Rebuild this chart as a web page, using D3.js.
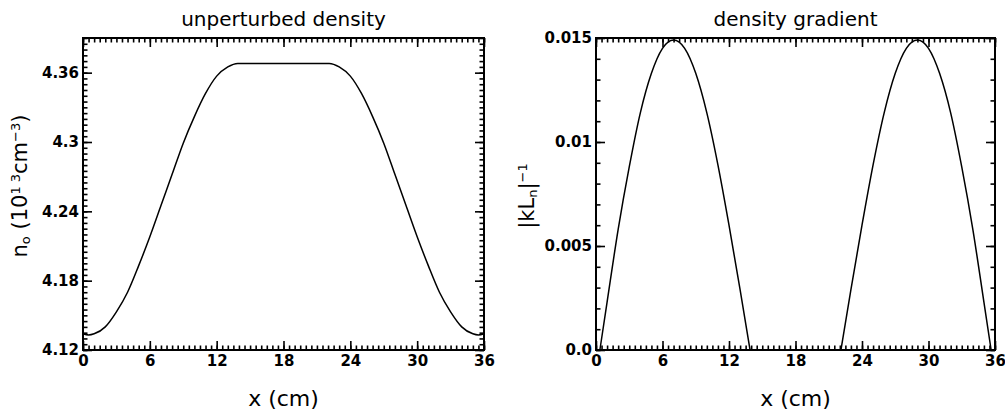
<!DOCTYPE html>
<html>
<head>
<meta charset="utf-8">
<script src="https://cdn.jsdelivr.net/npm/d3@7"></script>
<style>
    body { margin: 0; background: #fff; }
    text { font-family: "DejaVu Sans", sans-serif; fill: #000; }
    .tick text { font-size: 15px; font-weight: bold; }
</style>
</head>
<body>
<div id="chart"></div>
<script>
// left panel: unperturbed density n0 (10^13 cm^-3)
const densX = [0, 0.5, 1, 2, 3, 4, 5, 6, 7, 8, 9, 10, 11, 12, 13, 13.9,
               22.1, 23, 24, 25, 26, 27, 28, 29, 30, 31, 32, 33, 34, 35, 35.5, 36];
const densY = [4.134, 4.133, 4.134, 4.140, 4.153, 4.170, 4.193, 4.218, 4.245, 4.272, 4.299, 4.322, 4.342, 4.357, 4.365, 4.368,
               4.368, 4.365, 4.357, 4.342, 4.322, 4.299, 4.272, 4.245, 4.218, 4.193, 4.170, 4.153, 4.140, 4.134, 4.133, 4.134];

// right panel: |kLn|^-1, two humps
const gradX1 = [0.35, 1, 2, 3, 4, 5, 6, 7, 8, 9, 10, 11, 12, 13, 13.9];
const gradY1 = [0, 0.0023, 0.0058, 0.0088, 0.0114, 0.0133, 0.0145, 0.0149, 0.0145, 0.0133, 0.0114, 0.0089, 0.0060, 0.0029, 0];
const gradX2 = [22.1, 23, 24, 25, 26, 27, 28, 29, 30, 31, 32, 33, 34, 35, 35.65];
const gradY2 = [0, 0.0029, 0.0060, 0.0089, 0.0114, 0.0133, 0.0145, 0.0149, 0.0145, 0.0133, 0.0114, 0.0088, 0.0058, 0.0023, 0];

const xTicks = [0, 6, 12, 18, 24, 30, 36];
const densTicks = [4.12, 4.18, 4.24, 4.3, 4.36];
const densTickLabels = ["4.12", "4.18", "4.24", "4.3", "4.36"];
const gradTicks = [0, 0.005, 0.01, 0.015];
const gradTickLabels = ["0.0", "0.005", "0.01", "0.015"];

const W = 1005, H = 418;
const plotTop = 38, plotBottom = 350;

const svg = d3.select("#chart").append("svg")
    .attr("width", W)
    .attr("height", H);

function panel(opts) {
    let x = d3.scaleLinear().domain([0, 36]).range([opts.left, opts.right]);
    let y = d3.scaleLinear().domain(opts.yDomain).range([plotBottom, plotTop]);

    let g = svg.append("g");
    let xMinor = d3.range(0, 36.001, 0.5);
    let yMinor = d3.range(opts.yDomain[0], opts.yDomain[1] + 1e-9, opts.yMinorStep);

    function addAxis(axis, tx, ty) {
        let a = g.append("g")
            .attr("transform", "translate(" + tx + "," + ty + ")")
            .call(axis);
        a.select(".domain").remove();
        a.selectAll(".tick line").attr("stroke-width", 1.6);
        return a;
    }

    // minor ticks on all four sides
    addAxis(d3.axisBottom(x).tickValues(xMinor).tickSize(-4.5).tickFormat(""), 0, plotBottom);
    addAxis(d3.axisTop(x).tickValues(xMinor).tickSize(-4.5).tickFormat(""), 0, plotTop);
    addAxis(d3.axisLeft(y).tickValues(yMinor).tickSize(-4.5).tickFormat(""), opts.left, 0);
    addAxis(d3.axisRight(y).tickValues(yMinor).tickSize(-4.5).tickFormat(""), opts.right, 0);

    // major ticks
    addAxis(d3.axisBottom(x).tickValues(xTicks).tickSize(-9).tickPadding(5).tickFormat(d3.format("d")), 0, plotBottom);
    addAxis(d3.axisTop(x).tickValues(xTicks).tickSize(-9).tickFormat(""), 0, plotTop);
    addAxis(d3.axisLeft(y).tickValues(opts.yTicks).tickSize(-9).tickPadding(4)
        .tickFormat((d, i) => opts.yTickLabels[i]), opts.left, 0);
    addAxis(d3.axisRight(y).tickValues(opts.yTicks).tickSize(-9).tickFormat(""), opts.right, 0);

    g.selectAll(".tick text").attr("fill", "#000");

    g.append("rect")
        .attr("x", opts.left)
        .attr("y", plotTop)
        .attr("width", opts.right - opts.left)
        .attr("height", plotBottom - plotTop)
        .attr("fill", "none")
        .attr("stroke", "#000")
        .attr("stroke-width", 2);

    let line = d3.line()
        .x(d => x(d[0]))
        .y(d => y(d[1]))
        .curve(d3.curveMonotoneX);

    opts.series.forEach(s => {
        g.append("path")
            .datum(s[0].map((v, i) => [v, s[1][i]]))
            .attr("d", line)
            .attr("fill", "none")
            .attr("stroke", "#000")
            .attr("stroke-width", 1.5);
    });

    let cx = (opts.left + opts.right) / 2;
    g.append("text")
        .attr("x", cx)
        .attr("y", 26)
        .attr("text-anchor", "middle")
        .style("font-size", "20px")
        .text(opts.title);

    g.append("text")
        .attr("x", cx)
        .attr("y", 406)
        .attr("text-anchor", "middle")
        .style("font-size", "22px")
        .text("x (cm)");

    return g;
}

let leftPanel = panel({
    left: 83, right: 484,
    yDomain: [4.12, 4.39], yMinorStep: 0.005,
    yTicks: densTicks, yTickLabels: densTickLabels,
    series: [[densX, densY]],
    title: "unperturbed density"
});

let rightPanel = panel({
    left: 596, right: 995,
    yDomain: [0, 0.015], yMinorStep: 0.001,
    yTicks: gradTicks, yTickLabels: gradTickLabels,
    series: [[gradX1, gradY1], [gradX2, gradY2]],
    title: "density gradient"
});

// y axis titles
let lt = leftPanel.append("text")
    .attr("transform", "translate(27,186) rotate(-90)")
    .attr("text-anchor", "middle")
    .style("font-size", "21px");
lt.append("tspan").text("n");
lt.append("tspan").attr("baseline-shift", "-20%").style("font-size", "13px").text("o");
lt.append("tspan").text(" (10");
lt.append("tspan").attr("baseline-shift", "super").style("font-size", "13px").text("1 3");
lt.append("tspan").text("cm");
lt.append("tspan").attr("baseline-shift", "super").style("font-size", "13px").text("−3");
lt.append("tspan").text(")");

let rt = rightPanel.append("text")
    .attr("transform", "translate(534,196) rotate(-90)")
    .attr("text-anchor", "middle")
    .style("font-size", "21px");
rt.append("tspan").text("|kL");
rt.append("tspan").attr("baseline-shift", "-20%").style("font-size", "13px").text("n");
rt.append("tspan").text("|");
rt.append("tspan").attr("baseline-shift", "super").style("font-size", "13px").text("−1");
</script>
</body>
</html>
